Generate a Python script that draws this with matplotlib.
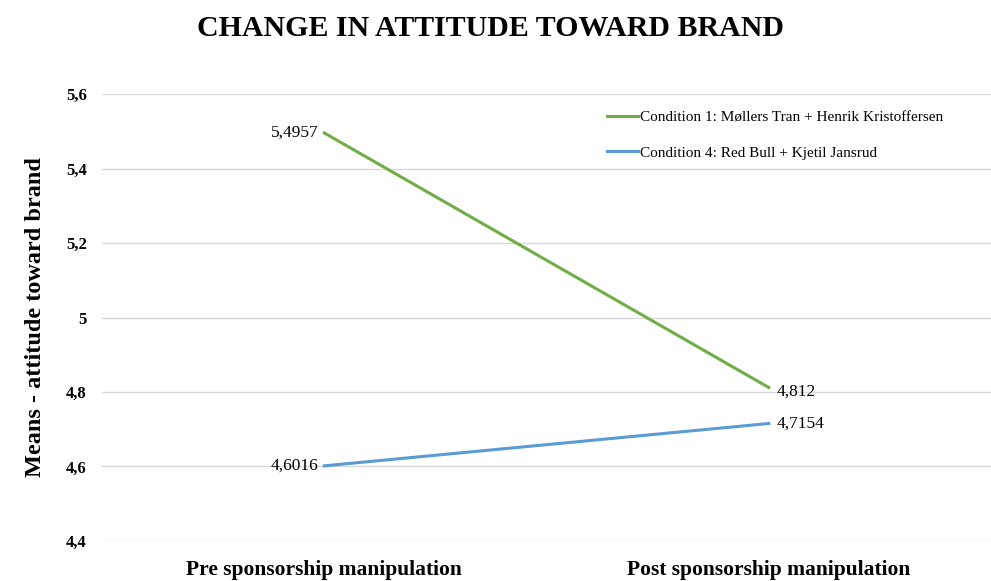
import matplotlib
matplotlib.use("Agg")
import matplotlib.pyplot as plt

plt.rcParams['font.family'] = ['Liberation Serif', 'DejaVu Serif']

categories = ["Pre sponsorship manipulation", "Post sponsorship manipulation"]
cond1 = [5.4957, 4.812]
cond4 = [4.6016, 4.7154]
cond1_labels = ["5,4957", "4,812"]
cond4_labels = ["4,6016", "4,7154"]
names = ["Condition 1: Møllers Tran + Henrik Kristoffersen",
         "Condition 4: Red Bull + Kjetil Jansrud"]
yticks = [4.4, 4.6, 4.8, 5.0, 5.2, 5.4, 5.6]
ytick_labels = ["4,4", "4,6", "4,8", "5", "5,2", "5,4", "5,6"]

fig = plt.figure(figsize=(9.91, 5.81), dpi=100)
ax = fig.add_axes([0.103, 0.069, 0.897, 0.769])

x = list(range(len(categories)))
ax.plot(x, cond1, color="#70AD47", lw=2.2, label=names[0])
ax.plot(x, cond4, color="#5B9BD5", lw=2.2, label=names[1])

ax.set_xlim(-0.5, 1.5)
ax.set_ylim(4.4, 5.6)
ax.set_yticks(yticks)
ax.set_yticklabels(ytick_labels, fontsize=12, fontweight="bold")
ax.set_xticks(x)
ax.set_xticklabels(categories, fontsize=15.5, fontweight="bold")
ax.tick_params(axis="y", length=0, pad=11)
ax.tick_params(axis="x", length=0, pad=14)
ax.grid(axis="y", color="#D9D9D9", lw=1)
ax.set_axisbelow(True)
for s in ax.spines.values():
    s.set_visible(False)

ax.set_ylabel("Means - attitude toward brand", fontsize=17.5, fontweight="bold", labelpad=14)

# data labels
ax.annotate(cond1_labels[0], (0, cond1[0]), xytext=(-4, 0), textcoords="offset points",
            ha="right", va="center", fontsize=12.5)
ax.annotate(cond1_labels[1], (1, cond1[1]), xytext=(6, -3), textcoords="offset points",
            ha="left", va="center", fontsize=12.5)
ax.annotate(cond4_labels[0], (0, cond4[0]), xytext=(-4, 0), textcoords="offset points",
            ha="right", va="center", fontsize=12.5)
ax.annotate(cond4_labels[1], (1, cond4[1]), xytext=(6, 0), textcoords="offset points",
            ha="left", va="center", fontsize=12.5)

ax.legend(loc="upper left", bbox_to_anchor=(0.553, 0.993), frameon=False, fontsize=11,
          handlelength=2.0, handletextpad=0.15, labelspacing=1.4)

fig.suptitle("CHANGE IN ATTITUDE TOWARD BRAND", x=0.495, y=0.975, fontsize=21.5, fontweight="bold")

fig.savefig("out.png", dpi=100)
